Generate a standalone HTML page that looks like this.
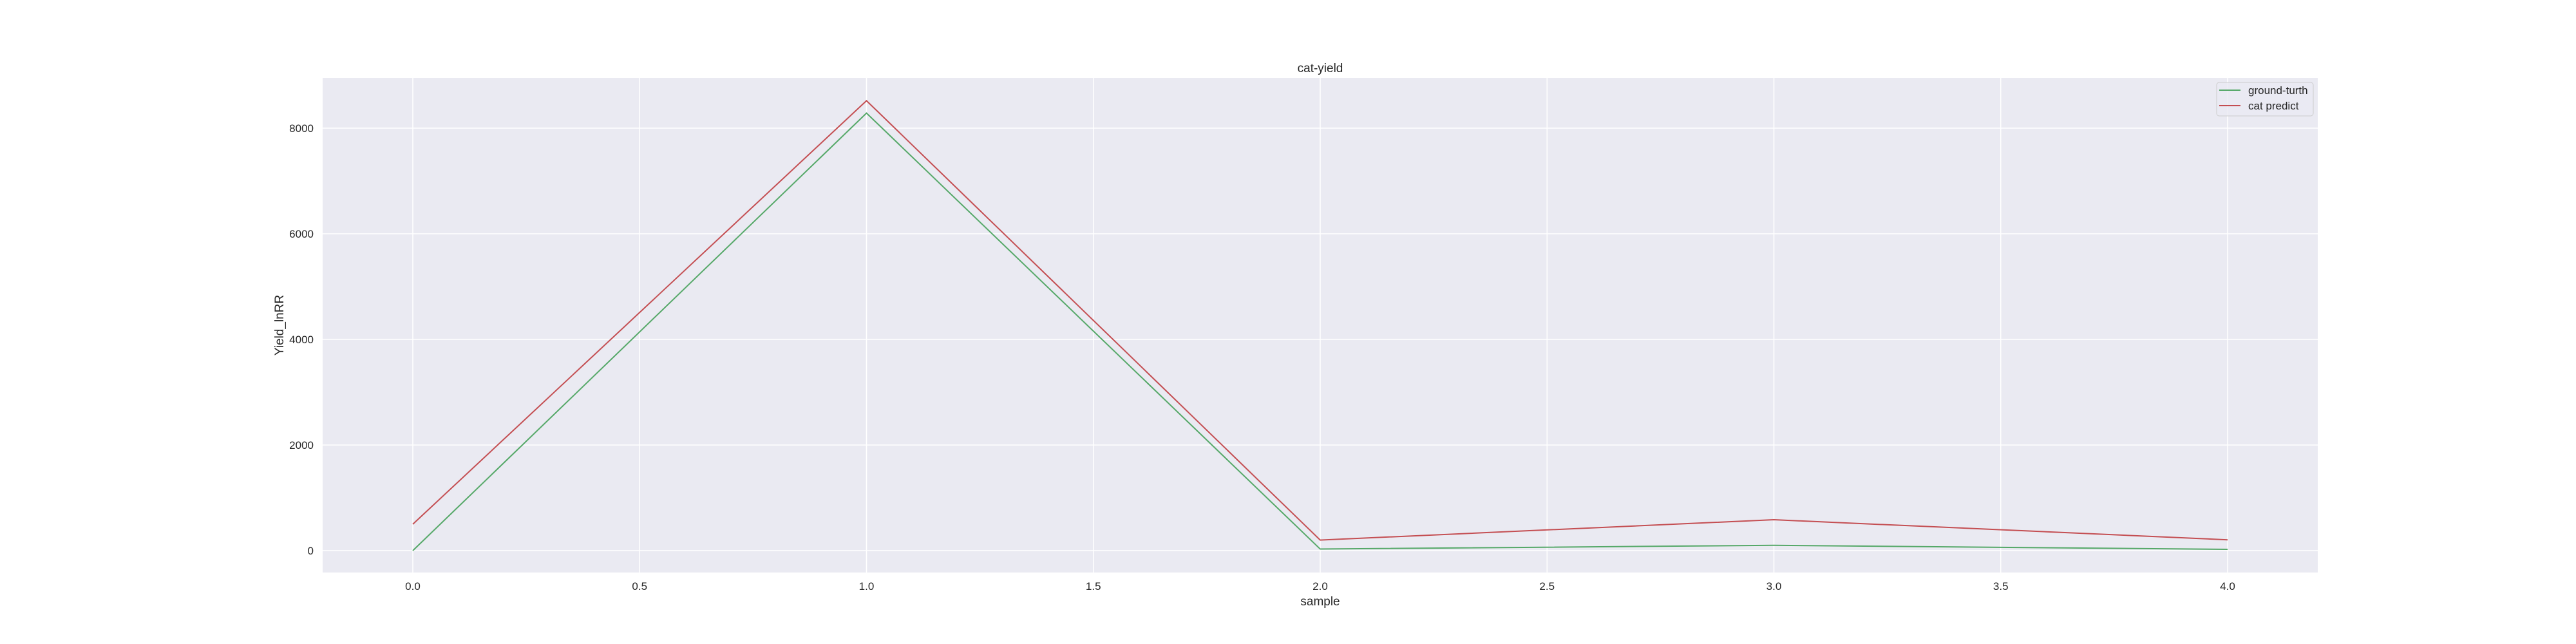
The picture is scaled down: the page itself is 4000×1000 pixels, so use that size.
<!DOCTYPE html>
<html><head><meta charset="utf-8"><style>
html,body{margin:0;padding:0;background:#fff;}
svg{display:block;font-family:"Liberation Sans","Noto Sans CJK SC",sans-serif;}
</style></head><body>
<svg id="chart" width="4000" height="1000" viewBox="0 0 4000 1000">
<rect x="501" y="121" width="3098" height="768" fill="#eaeaf2"/>
<g id="grid"></g>
<g id="ticks"></g>
<g id="series"></g>
<text x="2050" y="112" text-anchor="middle" font-size="19" fill="#262626">cat-yield</text>
<text x="2050" y="940" text-anchor="middle" font-size="19" fill="#262626">sample</text>
<text transform="translate(440,505) rotate(-90)" text-anchor="middle" font-size="19" fill="#262626">Yield_lnRR</text>
<g>
<rect x="3442" y="128" width="150" height="52" rx="4" fill="#eaeaf2" fill-opacity="0.8" stroke="#cccccc"/>
<line x1="3446" y1="140" x2="3479" y2="140" stroke="#55a868" stroke-width="2"/>
<text x="3491" y="146" font-size="17" fill="#262626">ground-turth</text>
<line x1="3446" y1="164" x2="3479" y2="164" stroke="#c44e52" stroke-width="2"/>
<text x="3491" y="170" font-size="17" fill="#262626">cat predict</text>
</g>
</svg>
<script>
const samples = [0, 1, 2, 3, 4];
const groundTruth = [0, 8285, 30, 100, 25];
const catPredict = [500, 8520, 200, 585, 205];
const xTicks = [0, 0.5, 1, 1.5, 2, 2.5, 3, 3.5, 4];
const xTickLabels = ["0.0","0.5","1.0","1.5","2.0","2.5","3.0","3.5","4.0"];
const yTicks = [0, 2000, 4000, 6000, 8000];
const yTickLabels = ["0","2000","4000","6000","8000"];

const NS = "http://www.w3.org/2000/svg";
function xs(v){ return 641 + v * (3459 - 641) / 4; }
function ys(v){ return 855 - v * (855 - 199) / 8000; }
const grid = document.getElementById('grid');
const ticks = document.getElementById('ticks');
const series = document.getElementById('series');
function mk(tag, attrs, parent){
  const el = document.createElementNS(NS, tag);
  for (const k in attrs) el.setAttribute(k, attrs[k]);
  parent.appendChild(el);
  return el;
}
xTicks.forEach((t, i) => {
  const g = mk('line', {x1: xs(t), x2: xs(t), y1: 121, y2: 889, stroke: '#fff', 'stroke-width': 1.5}, grid);
  
  
  const l = mk('text', {x: xs(t), y: 916, 'text-anchor': 'middle', 'font-size': 17, fill: '#262626'}, ticks);
  l.textContent = xTickLabels[i];
  
  
});
yTicks.forEach((t, i) => {
  const g = mk('line', {x1: 501, x2: 3599, y1: ys(t), y2: ys(t), stroke: '#fff', 'stroke-width': 1.5}, grid);
  
  
  const l = mk('text', {x: 487, y: ys(t) + 6, 'text-anchor': 'end', 'font-size': 17, fill: '#262626'}, ticks);
  l.textContent = yTickLabels[i];
  
  
});
function drawLine(vals, color, name){
  const pts = vals.map((v, i) => xs(samples[i]) + ',' + ys(v)).join(' ');
  const p = mk('polyline', {points: pts, fill: 'none', stroke: color, 'stroke-width': 2}, series);
  
  
}
drawLine(groundTruth, '#55a868', 'ground-truth-line');
drawLine(catPredict, '#c44e52', 'cat-predict-line');
</script>
</body></html>
